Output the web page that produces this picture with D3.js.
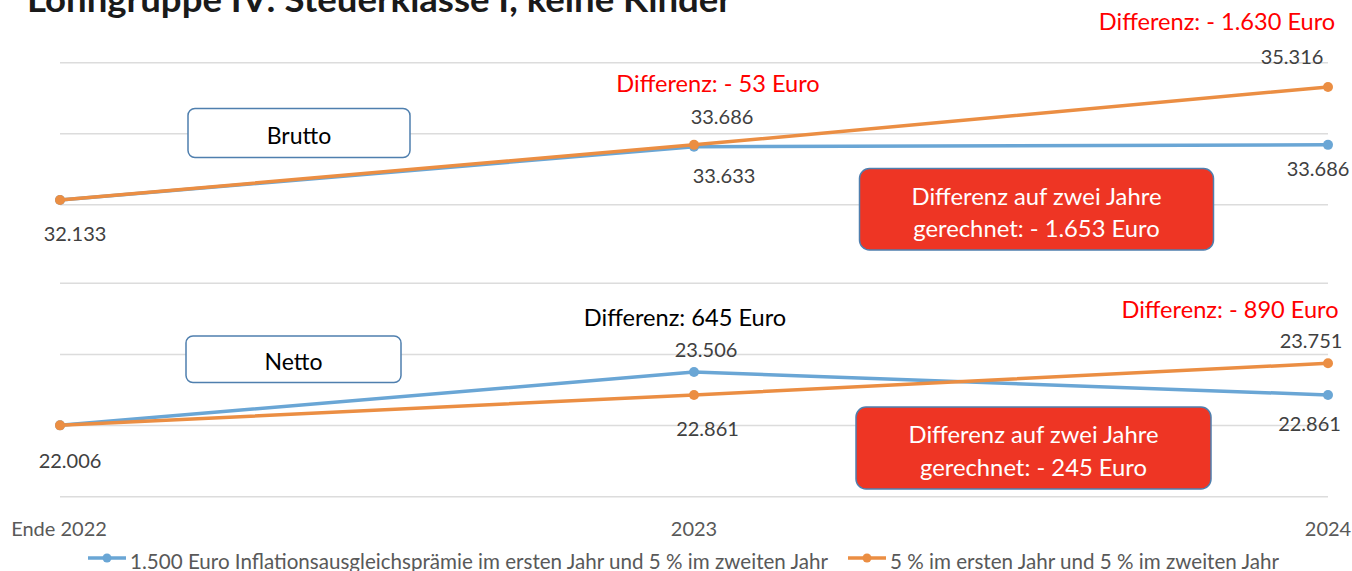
<!DOCTYPE html>
<html>
<head>
<meta charset="utf-8">
<script src="https://cdn.jsdelivr.net/npm/d3@7"></script>
<style>
  html, body { margin: 0; padding: 0; background: #fff; }
  svg { display: block; font-family: Lato, "Open Sans", sans-serif; }
</style>
</head>
<body>
<svg id="chart" width="1352" height="571"></svg>
<script>
const title = "Lohngruppe IV: Steuerklasse I, keine Kinder";
const categories = ["Ende 2022", "2023", "2024"];
const seriesNames = [
  "1.500 Euro Inflationsausgleichsprämie im ersten Jahr und 5 % im zweiten Jahr",
  "5 % im ersten Jahr und 5 % im zweiten Jahr"
];
const bruttoPraemie = [32133, 33633, 33686];
const brutto5 = [32133, 33686, 35316];
const nettoPraemie = [22006, 23506, 22861];
const netto5 = [22006, 22861, 23751];
const bruttoTicks = [32000, 34000, 36000];
const nettoTicks = [20000, 22000, 24000, 26000];
const bruttoDiffs = ["Differenz: - 53 Euro", "Differenz: - 1.630 Euro"];
const nettoDiffs = ["Differenz: 645 Euro", "Differenz: - 890 Euro"];
const bruttoTotal = ["Differenz auf zwei Jahre", "gerechnet: - 1.653 Euro"];
const nettoTotal = ["Differenz auf zwei Jahre", "gerechnet: - 245 Euro"];

const blue = "#6aa6d5", orange = "#eb8e43";
const svg = d3.select("#chart");
const fmt = v => d3.format(",")(v).replace(/,/g, ".");

const x = d3.scalePoint().domain(categories).range([60, 1328]);
const yTop = d3.scaleLinear().domain([30000, 36000]).range([275.7, 62.7]);
const yBot = d3.scaleLinear().domain([20000, 26000]).range([496.7, 283.3]);

// title (cut off at top)
svg.append("text").attr("x", 27).attr("y", 12)
  .attr("font-size", 35).attr("font-weight", 700).attr("fill", "#1a1a1a")
  .attr("textLength", 705).attr("lengthAdjust", "spacingAndGlyphs")
  .text(title);

function panel(y, ticks, sA, sB, labelsA, labelsB) {
  const g = svg.append("g");
  g.selectAll("line.grid").data(ticks).join("line")
    .attr("x1", x.range()[0]).attr("x2", x.range()[1])
    .attr("y1", d => y(d)).attr("y2", d => y(d))
    .attr("stroke", "#dcdcdc").attr("stroke-width", 1.5);
  const line = d3.line().x((d, i) => x(categories[i])).y(d => y(d));
  [[sA, blue], [sB, orange]].forEach(([s, c]) => {
    g.append("path").datum(s).attr("d", line).attr("fill", "none")
      .attr("stroke", c).attr("stroke-width", 3.5).attr("stroke-linejoin", "round");
    g.selectAll(null).data(s).join("circle")
      .attr("cx", (d, i) => x(categories[i])).attr("cy", d => y(d))
      .attr("r", 5).attr("fill", c);
  });
  const lab = (s, offs) => offs.forEach((o, i) => {
    if (!o) return;
    g.append("text").attr("x", x(categories[i]) + o[0]).attr("y", y(s[i]) + o[1])
      .attr("text-anchor", "middle").attr("font-size", 20).attr("fill", "#404040")
      .text(fmt(s[i]));
  });
  lab(sA, labelsA);
  lab(sB, labelsB);
}

panel(yTop, bruttoTicks, bruttoPraemie, brutto5,
  [null, [30, 36], [-10, 31]],
  [[15, 41], [28, -20.5], [-36, -23]]);
panel(yBot, nettoTicks, nettoPraemie, netto5,
  [null, [12, -15], [-18.5, 36]],
  [[10, 43], [13.5, 41], [-17, -15]]);

// difference annotations
function annot(txt, cx, by, color) {
  svg.append("text").attr("x", cx).attr("y", by).attr("text-anchor", "middle")
    .attr("font-size", 23.6).attr("fill", color).text(txt);
}
annot(bruttoDiffs[0], 718, 92, "#ff0000");
annot(bruttoDiffs[1], 1217, 30, "#ff0000");
annot(nettoDiffs[0], 685, 326, "#000000");
annot(nettoDiffs[1], 1230, 318, "#ff0000");

// label boxes
function labelBox(txt, x0, y0, w, h) {
  svg.append("rect").attr("x", x0).attr("y", y0).attr("width", w).attr("height", h)
    .attr("rx", 7).attr("fill", "#fff").attr("stroke", "#4f7fae").attr("stroke-width", 1.5);
  svg.append("text").attr("x", x0 + w / 2).attr("y", y0 + h / 2 + 11)
    .attr("text-anchor", "middle").attr("font-size", 23).attr("fill", "#000").text(txt);
}
labelBox("Brutto", 188, 108.5, 222, 49);
labelBox("Netto", 186, 336, 215, 46.5);

function redBox(lines, x0, y0, w, h) {
  svg.append("rect").attr("x", x0).attr("y", y0).attr("width", w).attr("height", h)
    .attr("rx", 10).attr("fill", "#ee3524").attr("stroke", "#4f7fae").attr("stroke-width", 1.5);
  lines.forEach((t, i) => {
    svg.append("text").attr("x", x0 + w / 2).attr("y", y0 + 36 + i * 32.5)
      .attr("text-anchor", "middle").attr("font-size", 23.8).attr("fill", "#fff").text(t);
  });
}
redBox(bruttoTotal, 859.5, 168.5, 354, 81.5);
redBox(nettoTotal, 856, 407, 355, 82);

// x axis labels
svg.selectAll("text.xl").data(categories).join("text")
  .attr("x", (d, i) => x(d) + (i === 0 ? -1 : 0)).attr("y", 536)
  .attr("text-anchor", "middle").attr("font-size", 20).attr("fill", "#595959")
  .text(d => d);

// legend
const legX = [88, 848];
const legW = [698, 389];
seriesNames.forEach((n, i) => {
  const c = i === 0 ? blue : orange;
  const lx = legX[i];
  svg.append("line").attr("x1", lx).attr("x2", lx + 38).attr("y1", 558).attr("y2", 558)
    .attr("stroke", c).attr("stroke-width", 3.5);
  svg.append("circle").attr("cx", lx + 19).attr("cy", 558).attr("r", 4.5).attr("fill", c);
  svg.append("text").attr("x", lx + 42).attr("y", 569).attr("font-size", 20.5)
    .attr("textLength", legW[i]).attr("lengthAdjust", "spacingAndGlyphs")
    .attr("fill", "#595959").text(n);
});
</script>
</body>
</html>
